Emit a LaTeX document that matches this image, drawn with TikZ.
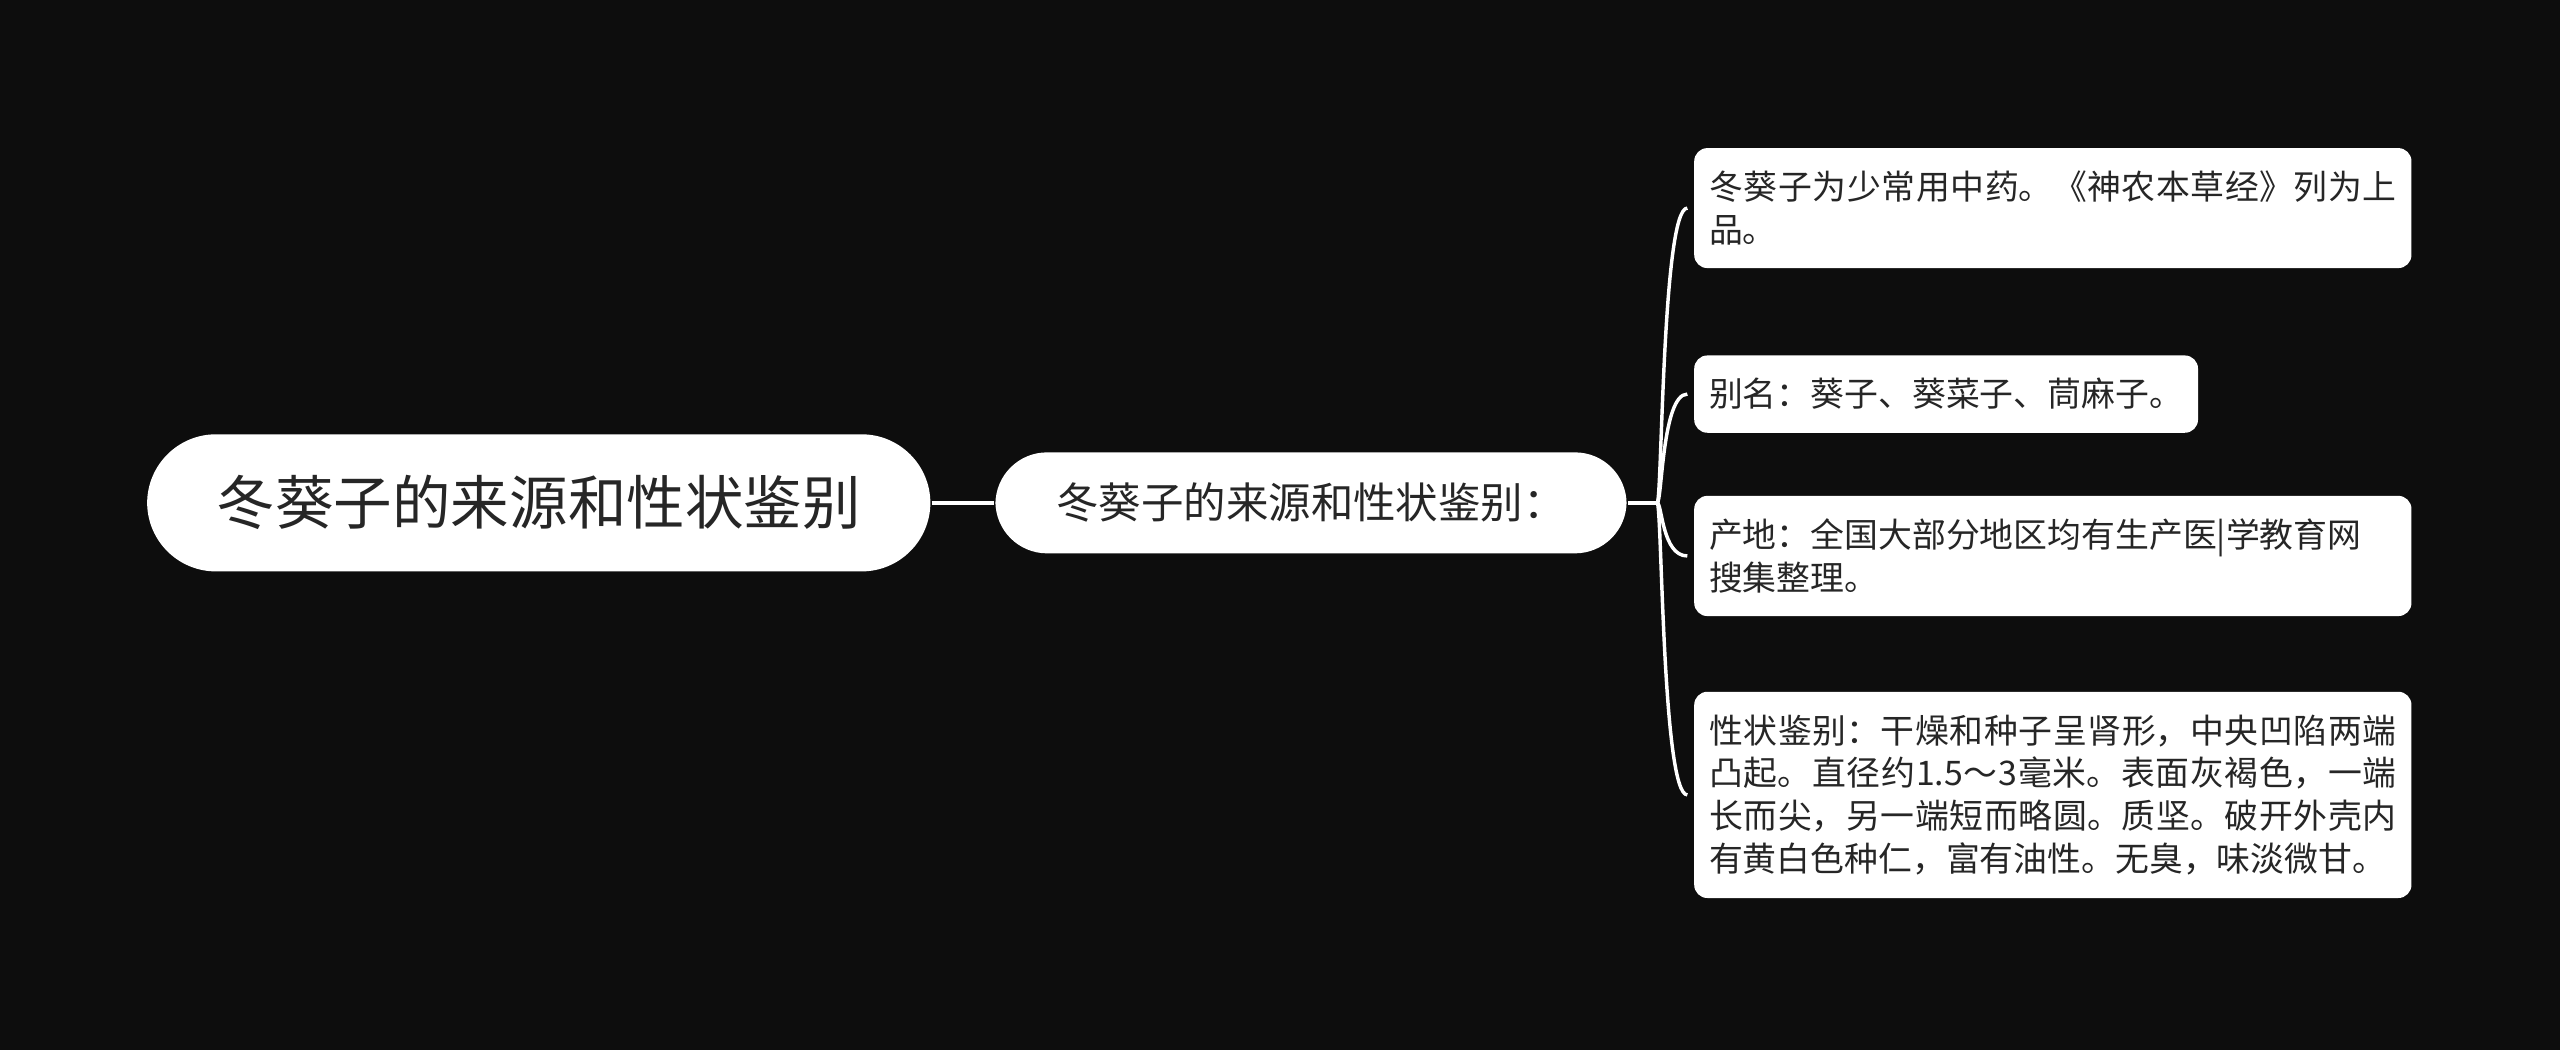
\documentclass[tikz,border=0pt]{standalone}
\usepackage{fontspec}
\newfontfamily\cjk{Noto Sans CJK SC}
\XeTeXlinebreaklocale "zh"
\XeTeXlinebreakskip=0pt plus 1pt
\begin{document}
\begin{tikzpicture}[x=0.1mm,y=-0.1mm,
  rootbox/.style={fill=white,rounded corners=12pt,minimum width=136.5pt,minimum height=23.9pt,font=\cjk\fontsize{10.2pt}{12pt}\selectfont,text=black!85},
  midbox/.style={fill=white,rounded corners=9pt,minimum width=110pt,minimum height=17.6pt,font=\cjk\fontsize{7.4pt}{9pt}\selectfont,text=black!85},
  leafbox/.style={fill=white,rounded corners=2.3pt,anchor=north west,align=justify,inner xsep=2.6pt,inner ysep=4pt,font=\cjk\fontsize{5.9pt}{7.45pt}\selectfont,text=black!85},
  wide/.style={text width=119.8pt},
  link/.style={draw=white,line width=0.6pt}]
\fill[black!95!white] (0,0) rectangle (1568,643);
\useasboundingbox (0,0) rectangle (1568,643);
\node[rootbox] (root) at (330,308) {冬葵子的来源和性状鉴别};
\node[midbox] (mid) at (803,308) {冬葵子的来源和性状鉴别：};
\node[leafbox,wide] (l1) at (1037,90) {冬葵子为少常用中药。《神农本草经》列为上品。};
\node[leafbox,align=left] (l2) at (1037,217) {别名：葵子、葵菜子、茼麻子。};
\node[leafbox,wide] (l3) at (1037,303) {产地：全国大部分地区均有生产医|学教育网\\搜集整理。};
\node[leafbox,wide] (l4) at (1037,423) {性状鉴别：干燥和种子呈肾形，中央凹陷两端凸起。直径约1.5～3毫米。表面灰褐色，一端长而尖，另一端短而略圆。质坚。破开外壳内有黄白色种仁，富有油性。无臭，味淡微甘。};
\coordinate (j) at (1015,308);
\draw[link] (root.east) -- (mid.west);
\draw[link] (mid.east) -- (j);
\foreach \n in {l1,l2,l3,l4}{
  \draw[link] (j) .. controls (1018,308) and (1018,0|-\n.west) .. ([xshift=-1pt]\n.west);
}
\end{tikzpicture}
\end{document}
